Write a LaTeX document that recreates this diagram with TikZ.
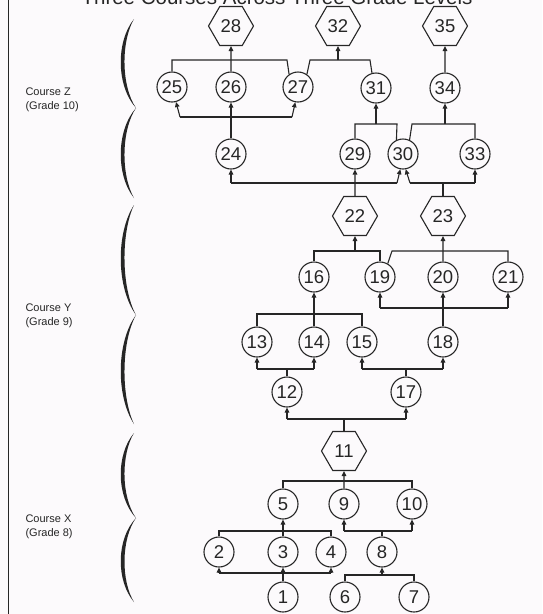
\documentclass[tikz,border=0pt]{standalone}
\usepackage{fontspec}
\setmainfont{Liberation Sans}
\usetikzlibrary{arrows.meta,shapes.geometric,calc}
\definecolor{ink}{HTML}{262626}
\definecolor{paper}{HTML}{FCFAFC}
\newcommand{\wavybrace}[3]{%
  \fill[ink] (134,#1) .. controls (116,{#1+0.25*(#2-#1)}) and (116,{#1+0.75*(#2-#1)}) .. (136,#2)
     .. controls (121,{#1+0.75*(#2-#1)}) and (121,{#1+0.25*(#2-#1)}) .. (134,#1) -- cycle;
  \fill[ink] (136,#2) .. controls (116,{#2+0.25*(#3-#2)}) and (116,{#2+0.75*(#3-#2)}) .. (134,#3)
     .. controls (121,{#2+0.75*(#3-#2)}) and (121,{#2+0.25*(#3-#2)}) .. (136,#2) -- cycle;}
\begin{document}
\begin{tikzpicture}[x=1pt,y=-1pt,
  conn/.style={draw=ink,line width=1.1pt},
  arr/.style={conn,-{Triangle[length=5pt,width=4.5pt]}},
  cnode/.style={circle,draw=ink,line width=1.1pt,minimum size=30pt,inner sep=0pt,text=ink,
    font=\fontsize{18.5}{18.5}\selectfont},
  hnode/.style={regular polygon,regular polygon sides=6,draw=ink,line width=1.1pt,
    minimum size=45pt,inner sep=0pt,text=ink,font=\fontsize{18.5}{18.5}\selectfont},
  lbl/.style={anchor=west,align=left,text=ink,font=\fontsize{11}{14}\selectfont},
  ttl/.style={anchor=base,text=ink,font=\fontsize{20.5}{22}\selectfont}]
\useasboundingbox (0,0) rectangle (542,614);
\fill[paper] (0,0) rectangle (542,614);
\draw[ink,line width=1.4pt] (8.5,0) -- (8.5,614);
\node[ttl] (title) at (277,4) {Three Courses Across Three Grade Levels};
% braces and labels
\wavybrace{19}{108}{198}
\wavybrace{205}{315}{424}
\wavybrace{433}{518}{602}
\node[lbl] (lz) at (22,100) {Course Z\\(Grade 10)};
\node[lbl] (ly) at (22,316) {Course Y\\(Grade 9)};
\node[lbl] (lx) at (22,527) {Course X\\(Grade 8)};
% nodes
\node[cnode] (n1) at (283,597) {1};
\node[cnode] (n2) at (219,552) {2};
\node[cnode] (n3) at (283,552) {3};
\node[cnode] (n4) at (331,552) {4};
\node[cnode] (n5) at (283,504) {5};
\node[cnode] (n6) at (345,597) {6};
\node[cnode] (n7) at (414,597) {7};
\node[cnode] (n8) at (382,552) {8};
\node[cnode] (n9) at (344,504) {9};
\node[cnode] (n10) at (412,504) {10};
\node[hnode] (n11) at (344,451) {11};
\node[cnode] (n12) at (287,392) {12};
\node[cnode] (n13) at (257,342) {13};
\node[cnode] (n14) at (314,342) {14};
\node[cnode] (n15) at (362,342) {15};
\node[cnode] (n16) at (314,277) {16};
\node[cnode] (n17) at (406,392) {17};
\node[cnode] (n18) at (443,342) {18};
\node[cnode] (n19) at (380,277) {19};
\node[cnode] (n20) at (443,277) {20};
\node[cnode] (n21) at (508,277) {21};
\node[hnode] (n22) at (355,216) {22};
\node[hnode] (n23) at (443,216) {23};
\node[cnode] (n24) at (231,154) {24};
\node[cnode] (n25) at (172,87) {25};
\node[cnode] (n26) at (231,87) {26};
\node[cnode] (n27) at (298,87) {27};
\node[hnode] (n28) at (231,26) {28};
\node[cnode] (n29) at (355,154) {29};
\node[cnode] (n30) at (403,154) {30};
\node[cnode] (n31) at (376,88) {31};
\node[hnode] (n32) at (338,26) {32};
\node[cnode] (n33) at (475,154) {33};
\node[cnode] (n34) at (445,88) {34};
\node[hnode] (n35) at (445,26) {35};
% bus levels
\coordinate (b1) at (0,573);
\coordinate (b2) at (0,575);
\coordinate (b3) at (0,531);
\coordinate (b4) at (0,481);
\coordinate (b5) at (0,419);
\coordinate (b6) at (0,369);
\coordinate (b7) at (0,314);
\coordinate (b8) at (0,308);
\coordinate (b9) at (0,251);
\coordinate (b10) at (0,183);
\coordinate (b11) at (0,117);
\coordinate (b12) at (0,60);
\coordinate (b13) at (0,124);
% 1 -> 2,3,4
\draw[conn] (n2.south |- b1) -- (n4.south |- b1);
\draw[arr] (n1.north) -- (n3.south);
\draw[arr] (n2.south |- b1) -- (n2.south);
\draw[arr] (n4.south |- b1) -- (n4.south);
% 6,7 -> 8
\draw[conn] (n6.north) -- (n6.north |- b2) -- (n7.north |- b2) -- (n7.north);
\draw[arr] (n8.south |- b2) -- (n8.south);
% 2,3,4 -> 5
\draw[conn] (n2.north) -- (n2.north |- b3) -- (n4.north |- b3) -- (n4.north);
\draw[arr] (n3.north) -- (n5.south);
% 8 -> 9,10
\draw[conn] (n8.north) -- (n8.north |- b3);
\draw[conn] (n9.south |- b3) -- (n10.south |- b3);
\draw[arr] (n9.south |- b3) -- (n9.south);
\draw[arr] (n10.south |- b3) -- (n10.south);
% 5,9,10 -> 11
\draw[conn] (n5.north) -- (n5.north |- b4) -- (n10.north |- b4) -- (n10.north);
\draw[arr] (n9.north) -- (n11.south);
% 11 -> 12,17
\draw[conn] (n11.north) -- (n11.north |- b5);
\draw[conn] (n12.south |- b5) -- (n17.south |- b5);
\draw[arr] (n12.south |- b5) -- (n12.south);
\draw[arr] (n17.south |- b5) -- (n17.south);
% 12 -> 13,14
\draw[conn] (n12.north) -- (n12.north |- b6);
\draw[conn] (n13.south |- b6) -- (n14.south |- b6);
\draw[arr] (n13.south |- b6) -- (n13.south);
\draw[arr] (n14.south |- b6) -- (n14.south);
% 17 -> 15,18
\draw[conn] (n17.north) -- (n17.north |- b6);
\draw[conn] (n15.south |- b6) -- (n18.south |- b6);
\draw[arr] (n15.south |- b6) -- (n15.south);
\draw[arr] (n18.south |- b6) -- (n18.south);
% 13,14,15 -> 16
\draw[conn] (n13.north) -- (n13.north |- b7) -- (n15.north |- b7) -- (n15.north);
\draw[arr] (n14.north) -- (n16.south);
% 18 -> 19,20,21
\draw[arr] (n18.north) -- (n20.south);
\draw[conn] (n19.south |- b8) -- (n21.south |- b8);
\draw[arr] (n19.south |- b8) -- (n19.south);
\draw[arr] (n21.south |- b8) -- (n21.south);
% 16,19 -> 22
\draw[conn] (n16.north) -- (n16.north |- b9) -- (n19.north |- b9) -- (n19.north);
\draw[arr] (n22.south |- b9) -- (n22.south);
% 19,20,21 -> 23
\coordinate (c23) at (392,251);
\draw[conn] (n19.60) -- (c23) -- (n21.north |- b9) -- (n21.north);
\draw[arr] (n20.north) -- (n23.south);
% 22 -> 24,29,30
\coordinate (c30a) at (397,183);
\draw[arr] (n22.north) -- (n29.south);
\draw[conn] (n24.south |- b10) -- (c30a);
\draw[arr] (c30a) -- (n30.260);
\draw[arr] (n24.south |- b10) -- (n24.south);
% 23 -> 30,33
\coordinate (c30b) at (410,183);
\draw[conn] (n23.north) -- (n23.north |- b10);
\draw[conn] (c30b) -- (n33.south |- b10);
\draw[arr] (c30b) -- (n30.280);
\draw[arr] (n33.south |- b10) -- (n33.south);
% 24 -> 25,26,27
\coordinate (c25) at (180,117);
\coordinate (c27) at (292,117);
\draw[arr] (n24.north) -- (n26.south);
\draw[conn] (c25) -- (c27);
\draw[arr] (c25) -- (n25.285);
\draw[arr] (c27) -- (n27.260);
% 25,26,27 -> 28
\coordinate (c27a) at (287,60);
\draw[conn] (n25.north) -- (n25.north |- b12) -- (c27a) -- (n27.125);
\draw[arr] (n26.north) -- (n28.south);
% 27,31 -> 32
\coordinate (c27b) at (310,60);
\coordinate (c31) at (370,60);
\draw[conn] (n27.55) -- (c27b) -- (c31) -- (n31.105);
\draw[arr] (n32.south |- b12) -- (n32.south);
% 29,30 -> 31
\coordinate (c30c) at (397,124);
\draw[conn] (n29.north) -- (n29.north |- b13) -- (c30c) -- (n30.115);
\draw[arr] (n31.south |- b13) -- (n31.south);
% 30,33 -> 34
\coordinate (c30d) at (412,124);
\draw[conn] (n30.65) -- (c30d) -- (n33.north |- b13) -- (n33.north);
\draw[arr] (n34.south |- b13) -- (n34.south);
% 34 -> 35
\draw[arr] (n34.north) -- (n35.south);
\end{tikzpicture}
\end{document}
